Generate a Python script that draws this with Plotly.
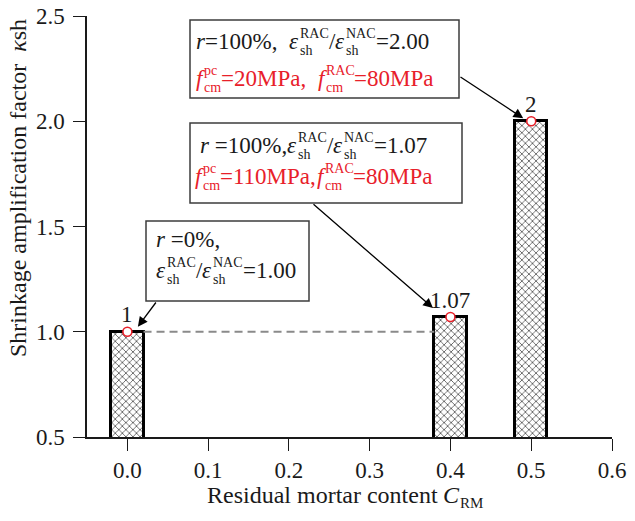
import plotly.graph_objects as go

# ---- data -------------------------------------------------------------
c_rm = [0.0, 0.4, 0.5]            # residual mortar content
kappa_sh = [1.00, 1.07, 2.00]     # shrinkage amplification factor
value_labels = [f"{v:g}" for v in kappa_sh]
x_ticks = [0.0, 0.1, 0.2, 0.3, 0.4, 0.5, 0.6]
y_ticks = [0.5, 1.0, 1.5, 2.0, 2.5]
bar_width = 0.04

# ---- geometry ---------------------------------------------------------
W, H = 635, 521
L, R, T, B = 87, 612, 16, 437
X_RANGE = [-0.05, 0.6]
Y_RANGE = [0.5, 2.5]
FONT = "Liberation Serif"
RED = "#e8202a"
INK = "#1a1a1a"


def xpx(v):
    return L + (v - X_RANGE[0]) / (X_RANGE[1] - X_RANGE[0]) * (R - L)


def ypx(v):
    return B - (v - Y_RANGE[0]) / (Y_RANGE[1] - Y_RANGE[0]) * (B - T)


def px2paper(px, py):
    return (px - L) / (R - L), (B - py) / (B - T)


# Times-compatible advance widths (em)
EM = {' ': .25, '%': .833, ',': .25, '.': .25, '/': .278, '=': .564,
      'A': .722, 'C': .667, 'M': .889, 'N': .722, 'P': .556, 'R': .667, 'S': .556,
      'a': .444, 'c': .444, 'd': .5, 'e': .444, 'f': .333, 'g': .5, 'h': .5,
      'i': .278, 'k': .5, 'l': .278, 'm': .778, 'n': .5, 'o': .5, 'p': .5,
      'r': .333, 's': .389, 't': .278, 'u': .5, 'ε': .44, 'κ': .5}
EM_IT = {'r': .389, 'f': .30, 'C': .667, 'ε': .44, 'κ': .5}


def width(s, size, italic=False):
    tab = EM_IT if italic else {}
    return sum(tab.get(ch, EM.get(ch, .5)) for ch in s) * size


annotations = []


def put(text, px, base, size, color, italic=False):
    ax, ay = px2paper(px, base - 0.3375 * size)
    t = text.replace(' ', '\u00a0')
    if italic:
        t = f"<i>{t}</i>"
    annotations.append(dict(
        x=ax, y=ay, xref="paper", yref="paper", xanchor="left", yanchor="middle",
        text=t, showarrow=False, borderpad=0,
        font=dict(family=FONT, size=size, color=color)))


def line(segs, px, base, size=23, color=INK, measure=False):
    small = round(size * 0.6)
    x = px
    for seg in segs:
        kind = seg[0]
        if kind == "t":
            if not measure:
                put(seg[1], x, base, size, color)
            x += width(seg[1], size)
        elif kind == "i":
            if not measure:
                put(seg[1], x, base, size, color, italic=True)
            x += width(seg[1], size, True)
        elif kind == "ss":      # stacked superscript / subscript
            sup, sub = seg[1], seg[2]
            if not measure:
                if sup:
                    put(sup, x + 1, base - 0.48 * size, small, color)
                if sub:
                    put(sub, x + 1, base + 0.26 * size, small, color)
            x += max(width(sup, small), width(sub, small)) + 1
    return x - px


ratio_1 = [("i", "ε"), ("ss", "RAC", "sh"), ("t", "/"), ("i", "ε"), ("ss", "NAC", "sh")]

# box 1
line([("i", "r"), ("t", "=100%,  ")] + ratio_1 + [("t", "=2.00")], 195, 49)
line([("i", "f"), ("ss", "pc", "cm"), ("t", "=20MPa,  "), ("i", "f"),
      ("ss", "RAC", "cm"), ("t", "=80MPa")], 195, 86, color=RED)
# box 2
line([("i", "r"), ("t", " =100%,")] + ratio_1 + [("t", "=1.07")], 199, 153)
line([("i", "f"), ("ss", "pc", "cm"), ("t", "=110MPa,"), ("i", "f"),
      ("ss", "RAC", "cm"), ("t", "=80MPa")], 194, 184, color=RED)
# box 3
line([("i", "r"), ("t", " =0%,")], 155, 247)
line(ratio_1 + [("t", "=1.00")], 155, 278)

# x-axis title, centred under the axis
TS = 24
XT_BASE = 503
xt = [("t", "Residual mortar content "), ("i", "C")]
w_main = line(xt, 0, 0, size=TS, measure=True)
w_sub = width("RM", 15)
x0 = (L + R) / 2 - 6 - (w_main + w_sub) / 2
line(xt, x0, XT_BASE, size=TS)
put("RM", x0 + w_main + 1, XT_BASE + 5, 15, INK)

# y-axis title
tx, ty = px2paper(18, 188)
annotations.append(dict(
    x=tx, y=ty, xref="paper", yref="paper", xanchor="center", yanchor="middle",
    textangle=-90, showarrow=False, borderpad=0,
    text="Shrinkage amplification factor\u00a0\u00a0<i>κ</i>sh",
    font=dict(family=FONT, size=24, color=INK)))

# value labels above bars
for xv, yv, lab in zip(c_rm, kappa_sh, value_labels):
    annotations.append(dict(
        x=xv, y=yv, xref="x", yref="y", text=lab, showarrow=False,
        xanchor="center", yanchor="middle", yshift=17, borderpad=0,
        font=dict(family=FONT, size=23, color=INK)))

# callout arrows: (tip, tail) in pixels
arrows = [
    ((xpx(c_rm[0]) + 10.5, ypx(kappa_sh[0]) - 5), (157, 301)),
    ((xpx(c_rm[1]) - 17.5, ypx(kappa_sh[1]) - 9), (312, 203)),
    ((xpx(c_rm[2]) - 8, ypx(kappa_sh[2]) - 3), (459, 76)),
]
for (tipx, tipy), (tlx, tly) in arrows:
    px_, py_ = px2paper(tipx, tipy)
    annotations.append(dict(
        x=px_, y=py_, xref="paper", yref="paper", text="", showarrow=True,
        ax=tlx - tipx, ay=tly - tipy, arrowhead=2, arrowsize=1.5,
        arrowwidth=1.3, arrowcolor="black", standoff=0))

# callout frames (pixels)
frames = [(190, 20, 459, 98), (190, 123, 462, 203), (146, 221, 309, 301)]
shapes = []
for x0b, y0b, x1b, y1b in frames:
    a0, b0 = px2paper(x0b, y1b)
    a1, b1 = px2paper(x1b, y0b)
    shapes.append(dict(type="rect", xref="paper", yref="paper",
                       x0=a0, y0=b0, x1=a1, y1=b1,
                       line=dict(color="#3c3c3c", width=1.5),
                       fillcolor="white", layer="above"))

fig = go.Figure()

# reference level of the natural-aggregate case between the bars
fig.add_trace(go.Scatter(
    x=[c_rm[0] + bar_width / 2, c_rm[1] - bar_width / 2],
    y=[kappa_sh[0], kappa_sh[0]], mode="lines",
    line=dict(color="#8a8a8a", width=2, dash="8px,5px"),
    hoverinfo="skip", showlegend=False))

fig.add_trace(go.Bar(
    x=c_rm, y=kappa_sh, width=bar_width,
    marker=dict(color="white", line=dict(color="black", width=3),
                pattern=dict(shape="x", fgcolor="#4a4a4a", bgcolor="white",
                             size=5, solidity=0.28)),
    showlegend=False))

fig.add_trace(go.Scatter(
    x=c_rm, y=kappa_sh, mode="markers",
    marker=dict(symbol="circle", size=9, color="white",
                line=dict(color=RED, width=1.6)),
    showlegend=False))

axis_common = dict(showgrid=False, zeroline=False, showline=True,
                   linecolor=INK, linewidth=1.5, ticks="outside", ticklen=12,
                   tickwidth=1.3, tickcolor=INK, automargin=False,
                   tickfont=dict(family=FONT, size=23, color=INK))

fig.update_layout(
    template="none",
    width=W, height=H, autosize=False,
    margin=dict(l=L, r=W - R, t=T, b=H - B, pad=0),
    paper_bgcolor="white", plot_bgcolor="white",
    xaxis=dict(range=X_RANGE, tickvals=x_ticks, tickformat=".1f", **axis_common),
    yaxis=dict(range=Y_RANGE, tickvals=y_ticks, tickformat=".1f",
               ticklabelstandoff=4, **axis_common),
    annotations=annotations, shapes=shapes, bargap=0, showlegend=False,
)

fig.write_html("out.html")
